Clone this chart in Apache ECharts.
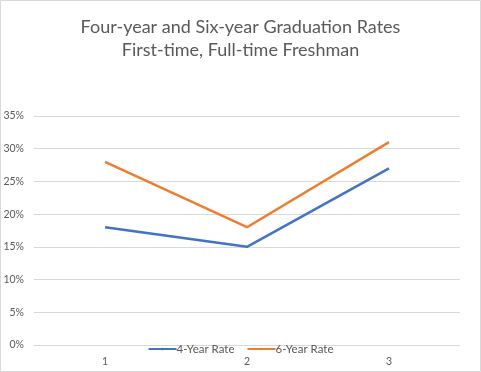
<!DOCTYPE html>
<html>
<head>
<meta charset="utf-8">
<script src="https://cdn.jsdelivr.net/npm/echarts@6/dist/echarts.min.js"></script>
<style>html,body{margin:0;padding:0;background:#fff}#c{width:481px;height:372px}</style>
</head>
<body>
<div id="c"></div>
<script>
const categories = ['1', '2', '3'];
const fourYear = [18, 15, 27];
const sixYear = [28, 18, 31];
const titleLines = ['Four-year and Six-year Graduation Rates', 'First-time, Full-time Freshman'];

const chart = echarts.init(document.getElementById('c'));
chart.setOption({
  animation: false,
  backgroundColor: '#fff',
  title: {
    text: titleLines.join('\n'),
    left: 'center',
    top: 11,
    textStyle: { fontFamily: 'Lato, "Open Sans", sans-serif', fontSize: 18, fontWeight: 'normal', color: '#595959', lineHeight: 23 }
  },
  graphic: [{ type: 'rect', shape: { x: 0.5, y: 0.5, width: 480, height: 371 }, style: { fill: 'none', stroke: '#d9d9d9', lineWidth: 1 }, silent: true }],
  grid: { left: 34, right: 21, top: 116, bottom: 27 },
  legend: {
    bottom: 12,
    left: 'center',
    itemWidth: 28,
    itemHeight: 3,
    itemGap: 12,
    textStyle: { fontFamily: 'Lato, "Open Sans", sans-serif', fontSize: 11.5, color: '#595959', padding: [0,0,0,-5] },
    data: ['4-Year Rate', '6-Year Rate']
  },
  xAxis: {
    type: 'category',
    data: categories,
    boundaryGap: true,
    axisLine: { show: false },
    axisTick: { show: false },
    axisLabel: { color: '#595959', fontSize: 10.5, fontFamily: 'Lato, "Open Sans", sans-serif', margin: 11 }
  },
  yAxis: {
    type: 'value',
    min: 0, max: 35, interval: 5,
    axisLabel: { formatter: '{value}%', color: '#595959', fontSize: 10.5, fontFamily: 'Lato, "Open Sans", sans-serif', margin: 10 },
    splitLine: { lineStyle: { color: '#d9d9d9', width: 1 } },
    axisLine: { show: false },
    axisTick: { show: false }
  },
  series: [
    { name: '4-Year Rate', type: 'line', data: fourYear, symbol: 'none', lineStyle: { color: '#4472C4', width: 2.5 }, itemStyle: { color: '#4472C4' } },
    { name: '6-Year Rate', type: 'line', data: sixYear, symbol: 'none', lineStyle: { color: '#ED7D31', width: 2.5 }, itemStyle: { color: '#ED7D31' } }
  ]
});
</script>
</body>
</html>
